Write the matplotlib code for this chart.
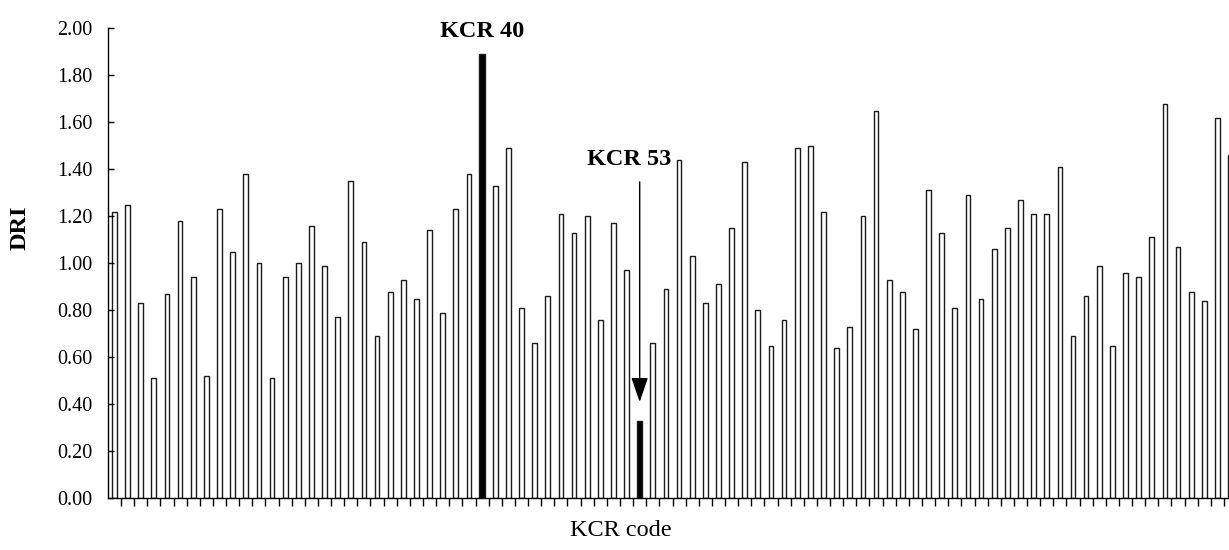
#=========================================================================
# plot.py
#=========================================================================
# DRI for each KCR accession, two highlighted codes.

import matplotlib
matplotlib.use('Agg')
import matplotlib.pyplot as plt
import numpy as np

#-------------------------------------------------------------------------
# Data
#-------------------------------------------------------------------------

dri = [
  1.22, 1.25, 0.83, 0.51, 0.87, 1.18, 0.94, 0.52, 1.23, 1.05,
  1.38, 1.00, 0.51, 0.94, 1.00, 1.16, 0.99, 0.77, 1.35, 1.09,
  0.69, 0.88, 0.93, 0.85, 1.14, 0.79, 1.23, 1.38, 1.89, 1.33,
  1.49, 0.81, 0.66, 0.86, 1.21, 1.13, 1.20, 0.76, 1.17, 0.97,
  0.33, 0.66, 0.89, 1.44, 1.03, 0.83, 0.91, 1.15, 1.43, 0.80,
  0.65, 0.76, 1.49, 1.50, 1.22, 0.64, 0.73, 1.20, 1.65, 0.93,
  0.88, 0.72, 1.31, 1.13, 0.81, 1.29, 0.85, 1.06, 1.15, 1.27,
  1.21, 1.21, 1.41, 0.69, 0.86, 0.99, 0.65, 0.96, 0.94, 1.11,
  1.68, 1.07, 0.88, 0.84, 1.62, 1.46,
]

highlight_idx    = [ 28, 40 ]
highlight_labels = [ 'KCR 40', 'KCR 53' ]

y_ticks = [ 0.0, 0.2, 0.4, 0.6, 0.8, 1.0, 1.2, 1.4, 1.6, 1.8, 2.0 ]

#-------------------------------------------------------------------------
# Configure matplotlib
#-------------------------------------------------------------------------

plt.rcParams['font.family'] = ['Liberation Serif', 'DejaVu Serif']
plt.rcParams['font.size']   = 14.5

#-------------------------------------------------------------------------
# Create plot
#-------------------------------------------------------------------------

fig = plt.figure( figsize=(12.29, 5.5), dpi=100 )
ax  = fig.add_axes( [ 0.0881, 0.094, 0.9119, 0.8545 ] )

ind    = np.arange( len(dri) )
colors = [ 'black' if i in highlight_idx else 'white' for i in ind ]
widths = [ 0.42 if i in highlight_idx else 0.36 for i in ind ]

ax.bar( ind, dri, widths, color=colors, edgecolor='#1a1a1a',
        linewidth=1.0 )

ax.set_xlim( -0.47, 84.88 )
ax.set_ylim( 0, 2.0 )
ax.set_yticks( y_ticks )
ax.set_yticklabels( [ '%.2f' % v for v in y_ticks ] )
ax.set_xticks( ind[:-1] + 0.5 )
ax.set_xticklabels( [] )

ax.tick_params( axis='y', direction='in', length=4, width=1, pad=11.5 )
ax.tick_params( axis='x', direction='out', length=6, width=1 )

# Only left and bottom border

ax.spines['right'].set_visible(False)
ax.spines['top'].set_visible(False)
ax.spines['left'].set_linewidth(1)
ax.spines['bottom'].set_linewidth(1)

# Annotations for the highlighted codes

ax.text( highlight_idx[0], 1.985, highlight_labels[0], ha='center',
         va='center', fontsize=17.5, fontweight='bold', clip_on=False )
ax.text( highlight_idx[1] - 0.82, 1.44, highlight_labels[1], ha='center',
         va='center', fontsize=17.5, fontweight='bold' )
ax.annotate( '', xy=(highlight_idx[1], 0.41), xytext=(highlight_idx[1], 1.347),
             arrowprops=dict( arrowstyle='-|>,head_length=1.05,head_width=0.36',
                              lw=1.0, color='black', shrinkA=0, shrinkB=0 ) )

# Axis titles

fig.text( 20/1229, 1 - 228/550, 'DRI', rotation=90, ha='center',
          va='center', fontsize=17.5, fontweight='bold' )
fig.text( 621/1229, 1 - 531/550, 'KCR code', ha='center', va='center',
          fontsize=17.5 )

#-------------------------------------------------------------------------
# Save
#-------------------------------------------------------------------------

fig.savefig( 'out.png', dpi=100 )
